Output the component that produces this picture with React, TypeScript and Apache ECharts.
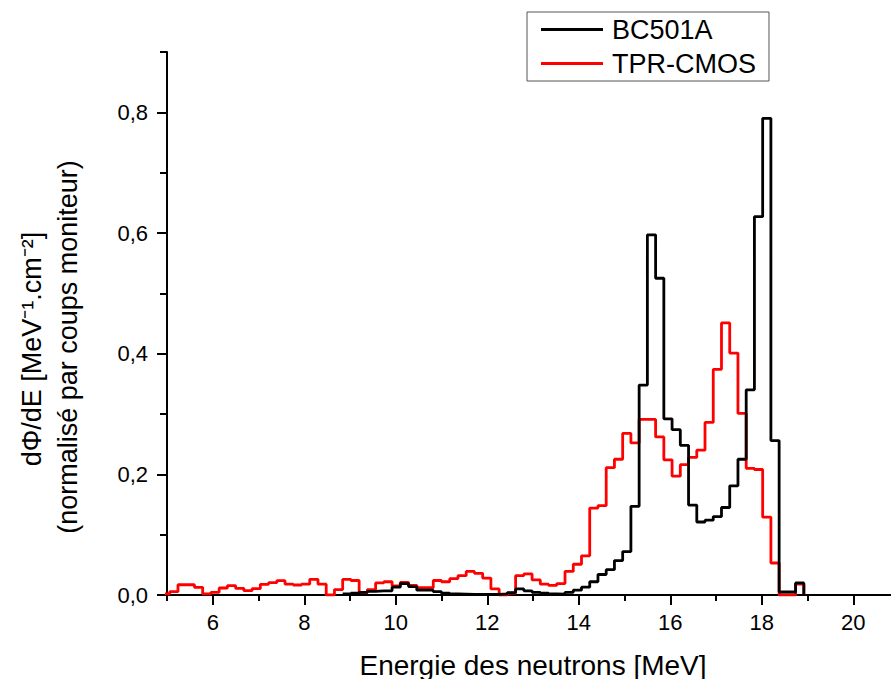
import React, { useEffect, useRef } from 'react';
import * as echarts from 'echarts';

// Histogram binning (MeV)
const BIN_START = 4.88;
const BIN_WIDTH = 0.18;

// TPR-CMOS, one value per bin starting at BIN_START
const tprCmos: (number | null)[] = [
  0.002,
  0.0055, 0.017, 0.017, 0.0127, 0.0017, 0.0044, 0.0116, 0.0155, 0.011, 0.0072,
  0.0105, 0.0177, 0.0205, 0.0238, 0.018, 0.0166, 0.018, 0.026, 0.018, 0.0,
  0.009, 0.026, 0.024, 0.004, 0.009, 0.020, 0.022, 0.015, 0.021, 0.016,
  0.012, 0.012, 0.024, 0.022, 0.027, 0.032, 0.039, 0.036, 0.028, 0.010,
  0.0, 0.003, 0.032, 0.035, 0.025, 0.018, 0.016, 0.019, 0.039, 0.051,
  0.065, 0.144, 0.148, 0.211, 0.225, 0.268, 0.252, 0.291, 0.291, 0.262,
  0.224, 0.197, 0.216, 0.228, 0.240, 0.286, 0.374, 0.451, 0.401, 0.301,
  0.210, 0.208, 0.129, 0.053, 0.0, 0.0, 0.018,
];

// BC501A, same bins (null = no data)
const bc501a: (number | null)[] = [
  null,
  null, null, null, null, null, null, null, null, null, null,
  null, null, null, null, null, null, null, null, null, null,
  null, 0.0017, 0.003, 0.0045, 0.006, 0.007, 0.007, 0.013, 0.019, 0.014,
  0.008, 0.008, 0.0055, 0.003, 0.0017, 0.0015, 0.001, 0.001, 0.001, 0.001,
  0.002, 0.004, 0.010, 0.007, 0.0045, 0.003, 0.0017, 0.0015, 0.0045, 0.008,
  0.013, 0.022, 0.034, 0.042, 0.057, 0.072, 0.147, 0.348, 0.597, 0.525,
  0.292, 0.274, 0.248, 0.149, 0.121, 0.124, 0.130, 0.145, 0.181, 0.225,
  0.340, 0.627, 0.790, 0.256, 0.005, 0.005, 0.020,
];

const seriesNames = ['BC501A', 'TPR-CMOS'];
const xMajorTicks = [6, 8, 10, 12, 14, 16, 18, 20];
const yMajorTicks = [0, 0.2, 0.4, 0.6, 0.8];

const FONT = '"Liberation Sans", Arial, sans-serif';

function toSteps(values: (number | null)[]) {
  const pts: [number, number | null][] = values.map((v, i) => [
    +(BIN_START + i * BIN_WIDTH).toFixed(4),
    v,
  ]);
  pts.push([+(BIN_START + values.length * BIN_WIDTH).toFixed(4), 0]);
  return pts;
}

export default function App() {
  const ref = useRef<HTMLDivElement>(null);
  useEffect(() => {
    document.body.style.margin = '0';
    const chart = echarts.init(ref.current!, null, { renderer: 'svg' });
    const axisLine = { show: true, lineStyle: { color: '#000', width: 2 } };
    const option: any = {
      animation: false,
      backgroundColor: '#fff',
      grid: {
        left: 167,
        top: 52,
        bottom: 84,
        right: -8,
        containLabel: false,
        outerBoundsMode: 'none',
      },
      legend: {
        data: seriesNames,
        orient: 'vertical',
        left: 527,
        top: 12,
        icon: 'rect',
        itemWidth: 62,
        itemHeight: 3,
        itemGap: 7,
        padding: [4, 13, 4, 14],
        borderColor: '#555',
        borderWidth: 1,
        textStyle: { fontSize: 27, fontFamily: FONT, color: '#000', padding: [0, 0, 0, 4] },
      },
      xAxis: [
        {
          type: 'value',
          min: 5,
          max: 21,
          interval: 1,
          axisLine,
          axisTick: { show: true, length: 6, lineStyle: { color: '#000', width: 2 } },
          axisLabel: { show: false },
          splitLine: { show: false },
          name: 'Energie des neutrons [MeV]',
          nameLocation: 'middle',
          nameGap: 56,
          nameTextStyle: { fontSize: 28, fontFamily: FONT, color: '#000' },
        },
        {
          type: 'value',
          min: 5,
          max: 21,
          position: 'bottom',
          axisLine: { show: false },
          axisTick: { show: true, length: 10, customValues: xMajorTicks, lineStyle: { color: '#000', width: 2 } },
          axisLabel: {
            show: true,
            customValues: xMajorTicks,
            margin: 16,
            fontSize: 22,
            fontFamily: FONT,
            color: '#000',
          },
          splitLine: { show: false },
        },
      ],
      yAxis: [
        {
          type: 'value',
          min: 0,
          max: 0.9,
          interval: 0.1,
          axisLine,
          axisTick: { show: true, length: 7, lineStyle: { color: '#000', width: 2 } },
          axisLabel: { show: false },
          splitLine: { show: false },
        },
        {
          type: 'value',
          min: 0,
          max: 0.9,
          position: 'left',
          axisLine: { show: false },
          axisTick: { show: true, length: 10, customValues: yMajorTicks, lineStyle: { color: '#000', width: 2 } },
          axisLabel: {
            show: true,
            customValues: yMajorTicks,
            margin: 19,
            fontSize: 22,
            fontFamily: FONT,
            color: '#000',
            formatter: (v: number) => v.toFixed(1).replace('.', ','),
          },
          splitLine: { show: false },
        },
      ],
      series: [
        {
          name: 'TPR-CMOS',
          type: 'line',
          step: 'end',
          xAxisIndex: 0,
          yAxisIndex: 0,
          showSymbol: false,
          symbol: 'none',
          color: '#ff0000',
          itemStyle: { color: '#ff0000' },
          lineStyle: { color: '#ff0000', width: 2.8 },
          data: toSteps(tprCmos),
          clip: true,
        },
        {
          name: 'BC501A',
          type: 'line',
          step: 'end',
          xAxisIndex: 0,
          yAxisIndex: 0,
          showSymbol: false,
          symbol: 'none',
          color: '#000000',
          itemStyle: { color: '#000000' },
          lineStyle: { color: '#000000', width: 2.8 },
          data: toSteps(bc501a),
          clip: true,
        },
      ],
      graphic: [
        {
          type: 'text',
          x: 32,
          y: 349,
          rotation: Math.PI / 2,
          style: {
            text: 'dΦ/dE [MeV⁻¹.cm⁻²]',
            fontSize: 27,
            fontFamily: FONT,
            fill: '#000',
            align: 'center',
            verticalAlign: 'middle',
          },
        },
        {
          type: 'text',
          x: 68,
          y: 347,
          rotation: Math.PI / 2,
          style: {
            text: '(normalisé par coups moniteur)',
            fontSize: 27,
            fontFamily: FONT,
            fill: '#000',
            align: 'center',
            verticalAlign: 'middle',
          },
        },
      ],
    };
    chart.setOption(option);
    return () => chart.dispose();
  }, []);
  return <div ref={ref} style={{ width: 891, height: 679 }} />;
}
